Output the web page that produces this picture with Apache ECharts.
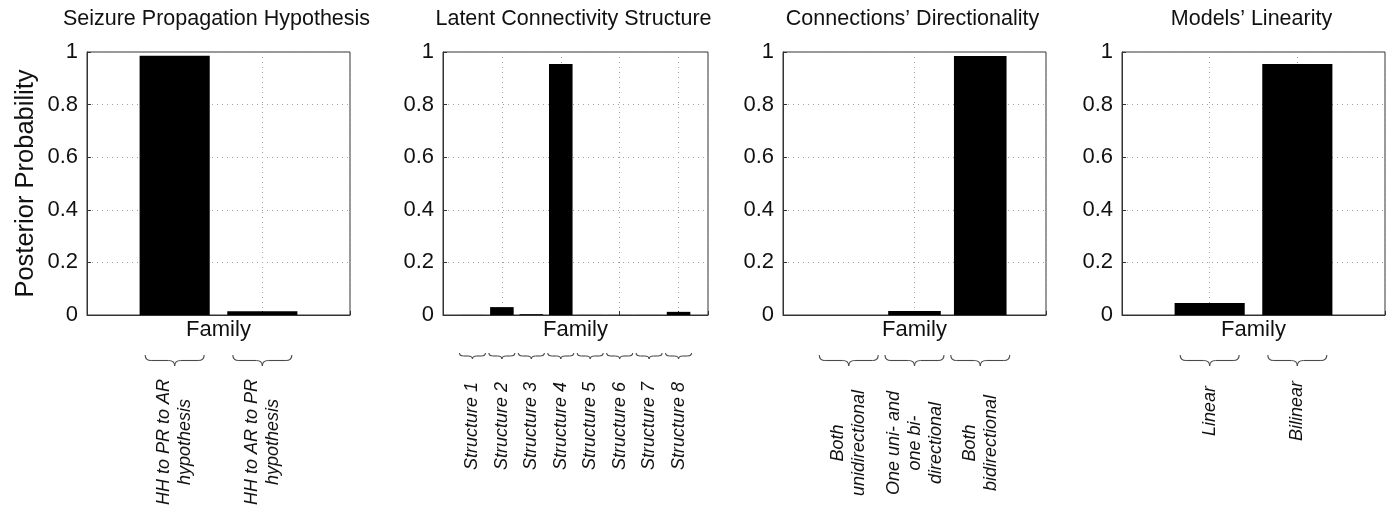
<!DOCTYPE html>
<html>
<head>
<meta charset="utf-8">
<title>Posterior Probability by Family</title>
<script src="https://cdn.jsdelivr.net/npm/echarts@6/dist/echarts.min.js"></script>
<style>
  html, body { margin: 0; padding: 0; background: #fff; }
  #chart { width: 1395px; height: 510px; }
</style>
</head>
<body>
<div id="chart"></div>
<script>
// ---- data ----
const panelTitles = [
  'Seizure Propagation Hypothesis',
  'Latent Connectivity Structure',
  'Connections\u2019 Directionality',
  'Models\u2019 Linearity'
];
const yTicks = [0, 0.2, 0.4, 0.6, 0.8, 1];
const yAxisTitle = 'Posterior Probability';
const xAxisTitle = 'Family';

const propagationFamilies = ['HH to PR to AR\nhypothesis', 'HH to AR to PR\nhypothesis'];
const propagationPosterior = [0.986, 0.014];

const structureFamilies = ['Structure 1', 'Structure 2', 'Structure 3', 'Structure 4',
                           'Structure 5', 'Structure 6', 'Structure 7', 'Structure 8'];
const structurePosterior = [0.0003, 0.030, 0.003, 0.954, 0.0003, 0.0002, 0.0002, 0.012];

const directionFamilies = ['Both\nunidirectional', 'One uni- and\none bi-\ndirectional', 'Both\nbidirectional'];
const directionPosterior = [0.0003, 0.015, 0.9847];

const linearityFamilies = ['Linear', 'Bilinear'];
const linearityPosterior = [0.046, 0.954];

// ---- layout / style ----
const panels = [
  { families: propagationFamilies, values: propagationPosterior, left: 87,  width: 263, xMax: 3, xStep: 1, brace: 59, braceH: 11, labelMid: 442 },
  { families: structureFamilies,   values: structurePosterior,   left: 443, width: 265, xMax: 9, xStep: 2, brace: 26, braceH: 6,  labelMid: 426 },
  { families: directionFamilies,   values: directionPosterior,   left: 783, width: 263, xMax: 4, xStep: 2, brace: 59, braceH: 11, labelMid: 443 },
  { families: linearityFamilies,   values: linearityPosterior,   left: 1122, width: 263, xMax: 3, xStep: 1, brace: 59, braceH: 11, labelMid: 411 }
];
const plotTop = 52, plotHeight = 263;
const FONT = '"Liberation Sans", Arial, Helvetica, sans-serif';
const INK = '#111';
const FRAME = '#333';
const GRIDLINE = { color: '#a0a0a0', width: 1, type: [1, 4] };

const chart = echarts.init(document.getElementById('chart'), null, { renderer: 'canvas' });

const option = {
  backgroundColor: '#fff',
  animation: false,
  title: panels.map((p, i) => ({
    text: panelTitles[i],
    left: p.left + p.width / 2 - 2,
    textAlign: 'center',
    top: 8,
    padding: 0,
    textStyle: { fontFamily: FONT, fontSize: 21.5, fontWeight: 'normal', color: INK }
  })),
  grid: panels.map(p => ({
    left: p.left, top: plotTop, width: p.width, height: plotHeight,
    show: true, borderColor: FRAME, borderWidth: 1, backgroundColor: 'transparent',
    containLabel: false
  })),
  xAxis: panels.map((p, i) => ({
    type: 'value', gridIndex: i, min: 0, max: p.xMax, interval: p.xStep,
    name: xAxisTitle, nameLocation: 'middle', nameGap: 4,
    nameTextStyle: { fontFamily: FONT, fontSize: 22, color: INK },
    axisLine: { show: true, lineStyle: { color: FRAME, width: 1 } },
    axisTick: { show: true, inside: true, length: 4, lineStyle: { color: FRAME } },
    axisLabel: { show: false },
    splitLine: { show: true, lineStyle: GRIDLINE }
  })),
  yAxis: panels.map((p, i) => ({
    type: 'value', gridIndex: i, min: yTicks[0], max: yTicks[yTicks.length - 1],
    interval: yTicks[1] - yTicks[0],
    name: i === 0 ? yAxisTitle : '', nameLocation: 'middle', nameGap: 48,
    nameTextStyle: { fontFamily: FONT, fontSize: 25.5, color: INK },
    axisLine: { show: true, lineStyle: { color: FRAME, width: 1 } },
    axisTick: { show: true, inside: true, length: 4, lineStyle: { color: FRAME } },
    axisLabel: { fontFamily: FONT, fontSize: 22, color: INK, margin: 9,
                 formatter: v => String(+v.toFixed(1)) },
    splitLine: { show: true, lineStyle: GRIDLINE }
  })),
  series: panels.map((p, i) => ({
    type: 'bar', xAxisIndex: i, yAxisIndex: i,
    data: p.values.map((v, k) => [k + 1, v]),
    barWidth: 0.8 * p.width / p.xMax,
    itemStyle: { color: '#000' },
    z: 3
  }))
};
chart.setOption(option);

// Curly brace under a category: two end hooks, two flat runs and a centre tip
function braceParts(cx, halfW, top, h) {
  const x0 = cx - halfW, x1 = cx + halfW;
  const ym = top + h * 0.5, yt = top + h;
  const r = Math.min(6, halfW / 3);
  const stroke = { stroke: '#4a4a4a', lineWidth: 1.1, fill: null };
  const curve = (a, b, c, d, e, f) => ({
    type: 'bezierCurve', silent: true, style: stroke,
    shape: { x1: a, y1: b, x2: c, y2: d, cpx1: e, cpy1: f }
  });
  const line = (a, b, c, d) => ({
    type: 'line', silent: true, style: stroke,
    shape: { x1: a, y1: b, x2: c, y2: d }
  });
  return [
    curve(x0, top, x0 + r, ym, x0, ym),
    line(x0 + r, ym, cx - r, ym),
    curve(cx - r, ym, cx, yt, cx, ym),
    curve(cx, yt, cx + r, ym, cx, ym),
    line(cx + r, ym, x1 - r, ym),
    curve(x1 - r, ym, x1, top, x1, ym)
  ];
}

// Braces and rotated family names under every category, placed through the axis scales
const graphics = [];
panels.forEach((p, i) => {
  const braceTop = p.braceH > 8 ? 355 : 353;
  p.families.forEach((name, k) => {
    const cx = chart.convertToPixel({ gridIndex: i }, [k + 1, 0])[0];
    graphics.push(...braceParts(cx, p.brace / 2, braceTop, p.braceH));
    graphics.push({
      type: 'text', x: cx, y: p.labelMid, rotation: Math.PI / 2, silent: true,
      style: {
        text: name, font: 'italic 18px ' + FONT, fill: INK,
        textAlign: 'center', textVerticalAlign: 'middle', lineHeight: 21
      }
    });
  });
});
chart.setOption({ graphic: graphics });
</script>
</body>
</html>
